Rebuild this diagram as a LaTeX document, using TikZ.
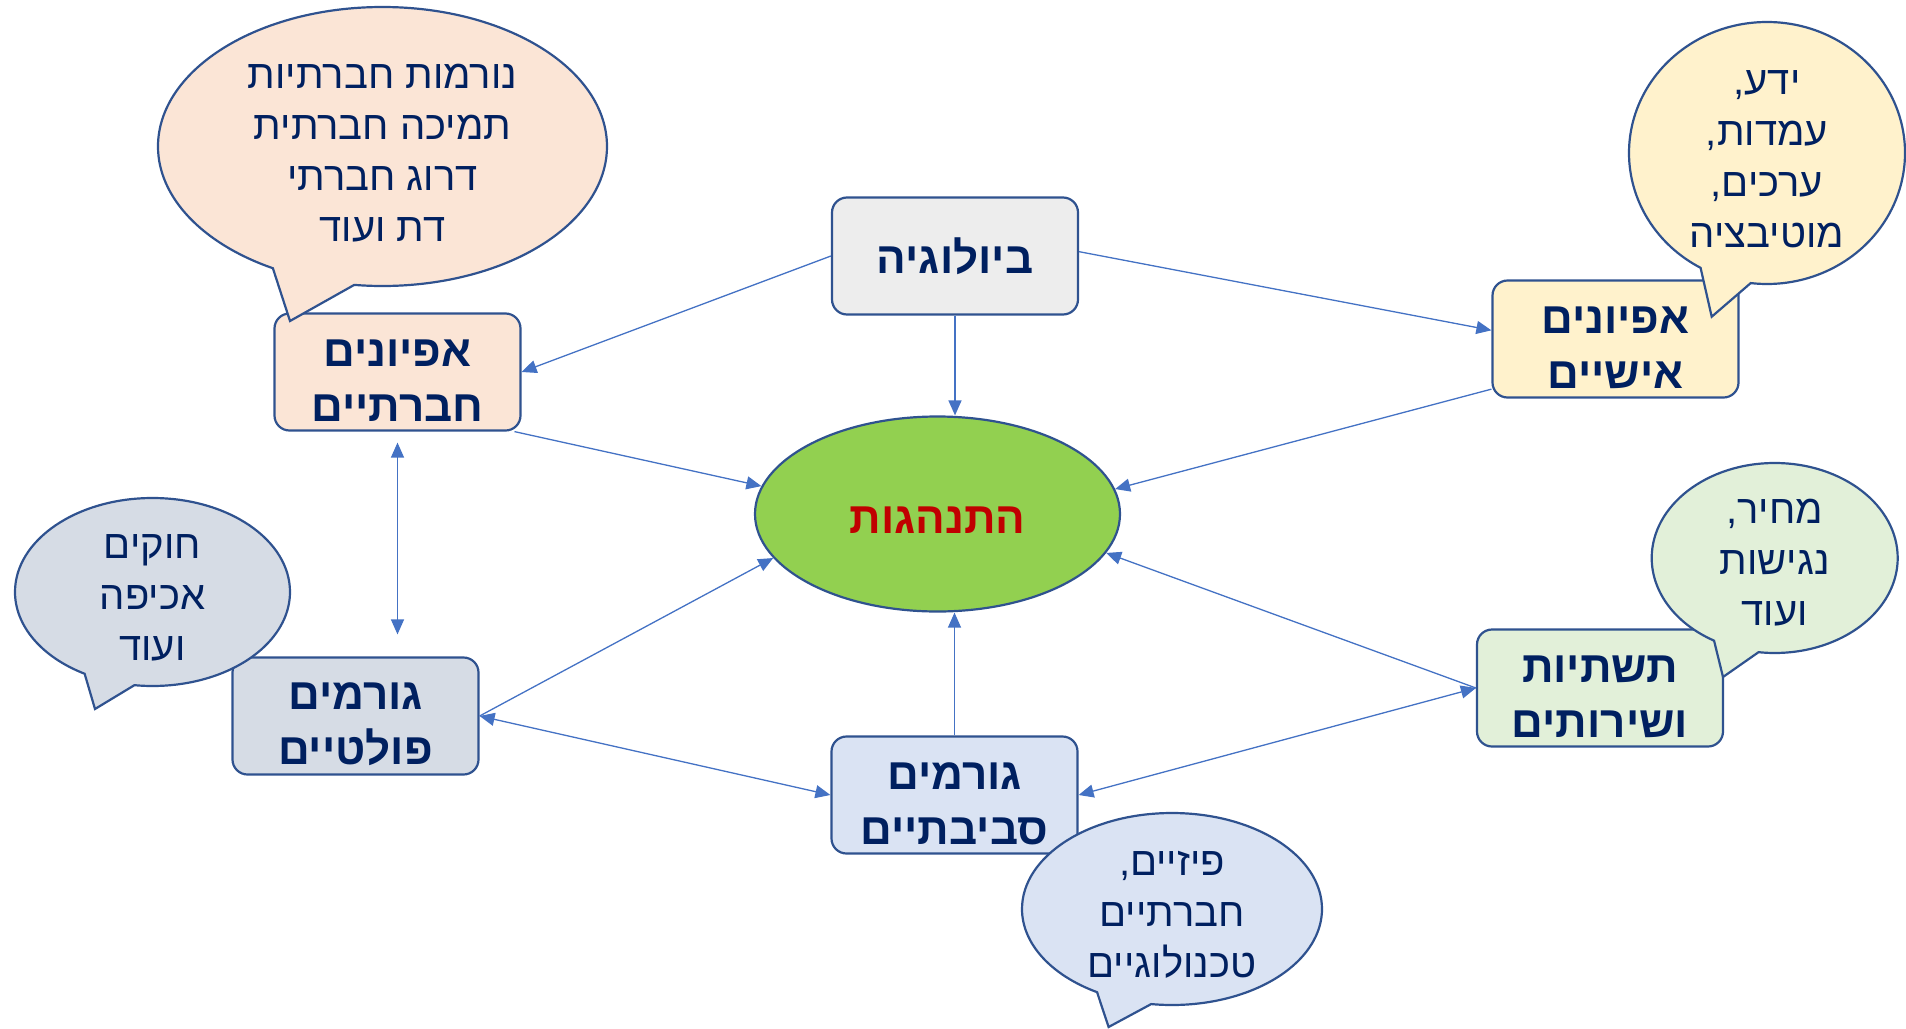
\documentclass[tikz,border=0pt]{standalone}
\usepackage{fontspec}
\usetikzlibrary{arrows.meta,shapes.geometric,shapes.callouts}
\TeXXeTstate=1
\newfontfamily\heb[Script=Hebrew]{Liberation Sans}
\newcommand{\hebl}[1]{\beginR#1\endR}
\newcommand{\tup}{\rule{0pt}{44pt}}
\definecolor{navy}{HTML}{002060}
\definecolor{bord}{HTML}{2F528F}
\definecolor{arrc}{HTML}{4472C4}
\definecolor{cbio}{HTML}{EDEDED}
\definecolor{csoc}{HTML}{FBE5D6}
\definecolor{cpers}{HTML}{FFF2CC}
\definecolor{cpol}{HTML}{D6DCE5}
\definecolor{cinf}{HTML}{E2F0D9}
\definecolor{cenv}{HTML}{DAE3F3}
\definecolor{cbeh}{HTML}{92D050}
\definecolor{cred}{HTML}{C00000}
\begin{document}
\begin{tikzpicture}[x=1pt,y=-1pt,
  box/.style={draw=bord, line width=2.2pt, rounded corners=15pt, minimum width=246pt, minimum height=117pt, inner sep=0pt, align=center, text=navy, font=\heb\bfseries\fontsize{44}{55}\selectfont},
  bubble/.style={ellipse callout, draw=bord, line width=2.2pt, inner sep=0pt, callout pointer arc=22},
  btext/.style={align=center, text=navy, inner sep=0pt, font=\heb\fontsize{40}{51}\selectfont},
  arr/.style={draw=arrc, line width=1.3pt, -{Triangle[length=15pt,width=13pt]}},
  darr/.style={draw=arrc, line width=1.3pt, {Triangle[length=15pt,width=13pt]}-{Triangle[length=15pt,width=13pt]}},
]
\useasboundingbox (0,0) rectangle (1906,1028);

% boxes
\node[box, fill=cbio] (bio) at (955,256) {\hebl{ביולוגיה}};
\node[box, fill=csoc] (soc) at (397.5,372) {\tup\hebl{אפיונים}\\\hebl{חברתיים}};
\node[box, fill=cpers] (pers) at (1615.5,339) {\tup\hebl{אפיונים}\\\hebl{אישיים}};
\node[box, fill=cpol] (pol) at (355.5,716) {\tup\hebl{גורמים}\\\hebl{פולטיים}};
\node[box, fill=cinf] (inf) at (1600,688) {\tup\hebl{תשתיות}\\\hebl{ושירותים}};
\node[box, fill=cenv] (env) at (954.5,795) {\tup\hebl{גורמים}\\\hebl{סביבתיים}};
\node[ellipse, draw=bord, line width=2.2pt, fill=cbeh, minimum width=365pt, minimum height=195pt, inner sep=0pt, text=cred, font=\heb\bfseries\fontsize{44}{50}\selectfont] (beh) at (937.5,514) {\rule{0pt}{38pt}\hebl{התנהגות}};

% connectors
\draw[arr] (bio.west) -- (soc.east);
\draw[arr] (bio.south) -- (bio.south |- beh.north);
\draw[arr] (bio.2) -- (pers.176.7);
\draw[arr] (soc.-27.2) -- (beh.171.7);
\draw[arr] (pers.202) -- (beh.8.7);
\draw[darr, shorten <=11pt, shorten >=22pt] (soc.south) -- (soc.south |- pol.north);
\draw[arr] (pol.east) -- (beh.195.7);
\draw[darr] (pol.east) -- (env.west);
\draw[arr] (env.north) -- (env.north |- beh.south);
\draw[arr] (inf.west) -- (beh.-13.8);
\draw[darr] (inf.west) -- (env.east);

% bubbles
\node[bubble, fill=csoc, minimum width=449pt, minimum height=279pt, callout absolute pointer={(290,321)}] (b1) at (382.5,146.5) {};
\node[btext] (t1) at ([yshift=-6.5pt]b1.center) {\hebl{נורמות חברתיות}\\\hebl{תמיכה חברתית}\\\hebl{דרוג חברתי}\\\hebl{דת ועוד}};

\node[bubble, fill=cpers, minimum width=276pt, minimum height=262pt, callout absolute pointer={(1711.7,316.7)}] (b2) at (1767,153) {};
\node[btext] (t2) at ([yshift=-6.5pt]b2.center) {\hebl{ידע,}\\\hebl{עמדות,}\\\hebl{ערכים,}\\\hebl{מוטיבציה}};

\node[bubble, fill=cpol, minimum width=275pt, minimum height=188pt, callout absolute pointer={(95,709)}] (b3) at (152.5,592) {};
\node[btext] (t3) at ([yshift=-6pt]b3.center) {\hebl{חוקים}\\\hebl{אכיפה}\\\hebl{ועוד}};

\node[bubble, fill=cinf, minimum width=246pt, minimum height=190pt, callout absolute pointer={(1723,677)}] (b4) at (1774.7,558) {};
\node[btext] (t4) at ([yshift=-5pt]b4.center) {\hebl{מחיר,}\\\hebl{נגישות}\\\hebl{ועוד}};

\node[bubble, fill=cenv, minimum width=300pt, minimum height=192pt, callout absolute pointer={(1108.6,1027)}] (b5) at (1172,909) {};
\node[btext] (t5) at ([yshift=-6pt]b5.center) {\hebl{פיזיים,}\\\hebl{חברתיים}\\\hebl{טכנולוגיים}};
\end{tikzpicture}
\end{document}
